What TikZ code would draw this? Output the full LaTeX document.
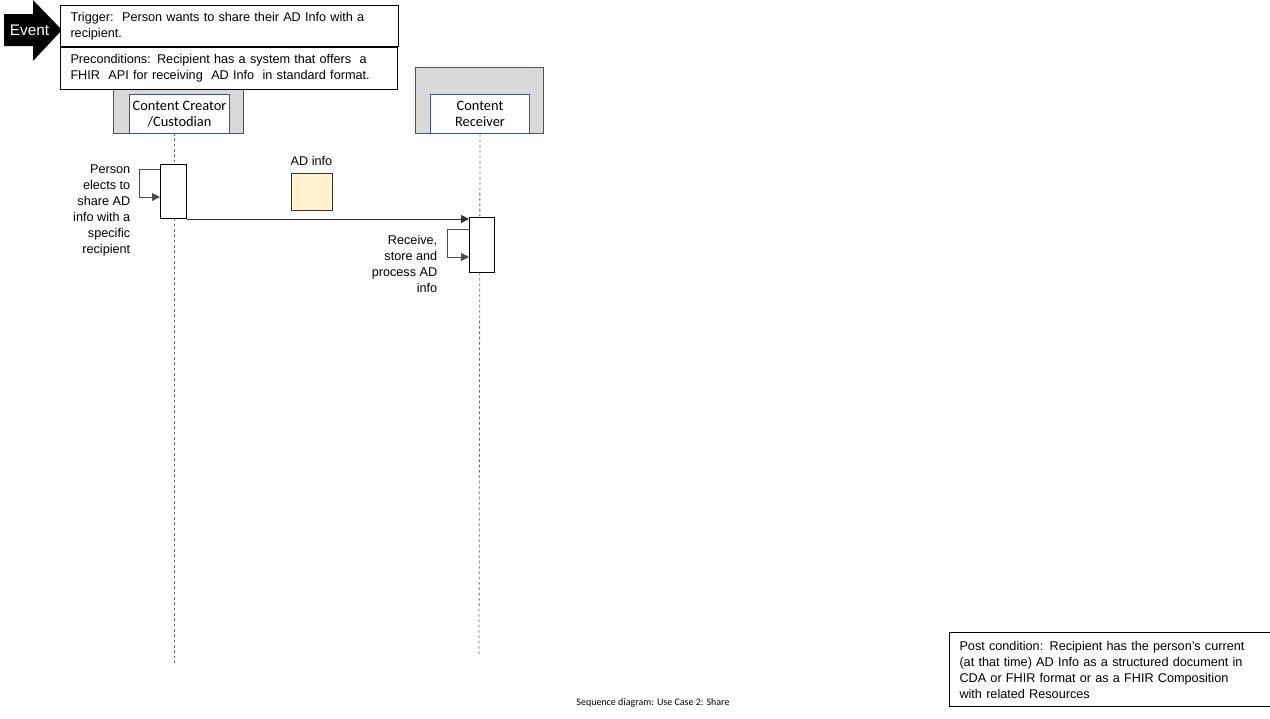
\documentclass[tikz,border=0pt]{standalone}
\usepackage{fontspec}
\setmainfont{Liberation Sans}
\newfontfamily\calibrifont{Carlito}
\usetikzlibrary{arrows.meta}
\definecolor{hdrgray}{HTML}{D9D9D9}
\definecolor{hdrborder}{HTML}{44546A}
\definecolor{innerborder}{HTML}{2F5597}
\definecolor{datafill}{HTML}{FFF2CC}
\tikzset{
  notebox/.style={draw=black, fill=white, line width=0.75pt, align=left, anchor=north west,
    inner xsep=7.5pt, inner ysep=0pt, font=\fontsize{9.5}{12}\selectfont},
  hdrouter/.style={draw=hdrborder, fill=hdrgray, line width=0.75pt},
  hdrinner/.style={draw=innerborder, fill=white, line width=0.75pt, anchor=north west,
    inner sep=0pt, align=center, font=\calibrifont\fontsize{10.8}{12}\selectfont},
  lifeline/.style={draw=black!60, dash pattern=on 2pt off 2pt, line width=0.6pt},
  actbar/.style={draw=black, fill=white, line width=0.75pt, anchor=north west, inner sep=0pt},
  msg/.style={draw=black!80, line width=0.75pt, -{Triangle[length=6pt,width=6pt]}},
  selfmsg/.style={draw=black!70, line width=0.75pt, -{Triangle[length=6pt,width=6pt]}},
  annot/.style={align=right, inner sep=0pt, font=\fontsize{9.5}{12}\selectfont},
}
\begin{document}
\begin{tikzpicture}[x=0.75pt,y=-0.75pt]
\useasboundingbox (0,0) rectangle (1270,718);
% Event arrow
\fill[black] (4,14) -- (33,14) -- (33,0) -- (62,30) -- (33,61) -- (33,46) -- (4,46) -- cycle;
\node[text=white, font=\fontsize{11.5}{13}\selectfont, inner sep=0pt] (event) at (29.5,30) {Event};
% Lifeline headers
\draw[hdrouter] (113,67) rectangle (243,133);
\node[hdrinner, minimum width=75pt, minimum height=29.25pt] (creator) at (129,94) {Content Creator\\/Custodian};
\draw[hdrouter] (415,67) rectangle (543,133);
\node[hdrinner, minimum width=74.25pt, minimum height=29.25pt] (receiver) at (430,94) {Content\\Receiver};
% Notes
\node[notebox, minimum width=253.5pt, minimum height=30.75pt, text width=238.5pt] (trigger) at (60,5)
  {Trigger:\ \ Person wants to share their AD Info with a\\recipient.};
\node[notebox, minimum width=252.75pt, minimum height=31.5pt, text width=237.75pt] (precond) at (60,47)
  {Preconditions: Recipient has a system that offers\ \ a\\FHIR\ \ API for receiving\ \ AD Info\ \ in standard format.};
% Lifelines
\coordinate (top1) at (174,133);
\coordinate (end1) at (174,663);
\coordinate (end2) at (479,655);
\draw[lifeline] (top1) -- (end1);
\draw[lifeline] (receiver.south) -- (end2);
% Activation bars
\node[actbar, minimum width=19.5pt, minimum height=40.5pt] (act1) at (160,164) {};
\node[actbar, minimum width=18.75pt, minimum height=41.25pt] (act2) at (469,217) {};
% Self messages
\draw[selfmsg] ([yshift=-3.75pt]act1.north west) -- ++(-21,0) |- ([yshift=-24.75pt]act1.north west);
\draw[selfmsg] ([yshift=-9pt]act2.north west) -- ++(-22,0) |- ([yshift=-30pt]act2.north west);
% Message
\draw[msg] (act1.south east) -- (act1.south east -| act2.west);
% Annotations
\node[annot, anchor=east] (lbl1) at (130.5,210) {Person\\elects to\\share AD\\info with a\\specific\\recipient};
\node[annot, anchor=east] (lbl2) at (437.5,264) {Receive,\\store and\\process AD\\info};
% Data
\node[font=\fontsize{9.5}{12}\selectfont, inner sep=0pt] (adlabel) at (311.5,161) {AD info};
\node[draw=black!80, fill=datafill, line width=0.75pt, anchor=north west, inner sep=0pt,
  minimum width=30.75pt, minimum height=27.75pt] (adbox) at (291,173) {};
% Post condition
\node[notebox, minimum width=239.25pt, minimum height=55.5pt, text width=226pt] (post) at (949,632)
  {Post condition: Recipient has the person's current\\(at that time) AD Info\ as a structured document in\\CDA or FHIR format or as a FHIR Composition\\with related Resources};
% Caption
\node[font=\calibrifont\fontsize{7.5}{8}\selectfont, inner sep=0pt] (caption) at (653,703) {Sequence diagram: Use Case 2: Share};
\end{tikzpicture}
\end{document}
